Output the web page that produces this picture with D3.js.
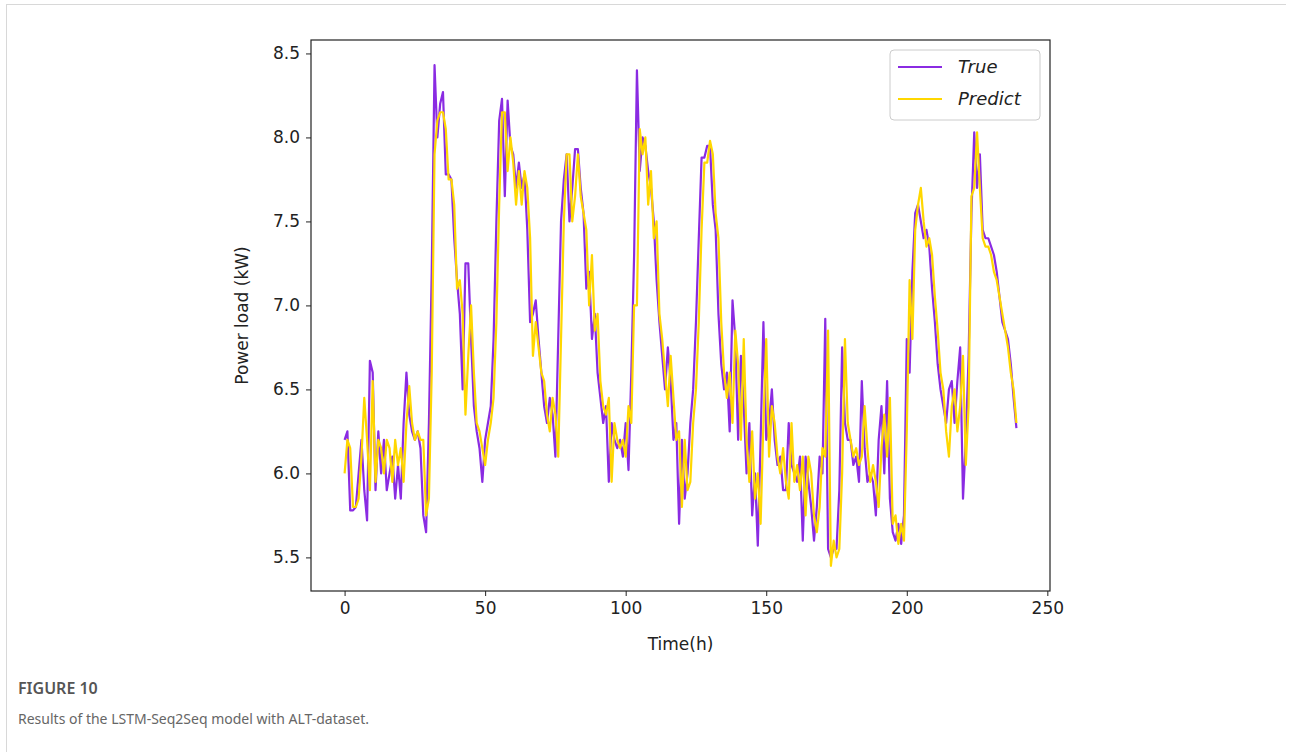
<!DOCTYPE html>
<html>
<head>
<meta charset="utf-8">
<script src="https://cdn.jsdelivr.net/npm/d3@7"></script>
<style>
body{margin:0;background:#fff;}
#kort{position:absolute;left:6px;top:4px;width:1280px;height:748px;border:1px solid #d8d8d8;border-right:none;border-bottom:none;box-sizing:border-box;}
.fig{position:absolute;left:18px;top:677px;font-family:"Noto Sans",sans-serif;font-size:16px;color:#555;font-weight:600;}
.cap{position:absolute;left:18px;top:709px;font-family:"Noto Sans",sans-serif;font-size:14px;color:#666;}
</style>
</head>
<body>
<div id="kort"></div>
<svg id="graf" width="1292" height="670" style="position:absolute;left:0;top:0"></svg>
<div class="fig">FIGURE 10</div>
<div class="cap">Results of the LSTM-Seq2Seq model with ALT-dataset.</div>
<script>
// data
const sann = [6.2,6.25,5.78,5.78,5.8,6.0,6.2,5.9,5.72,6.67,6.6,5.9,6.25,6.0,6.2,5.9,6.0,6.1,5.85,6.05,
5.85,6.3,6.6,6.35,6.25,6.2,6.25,6.15,5.75,5.65,6.3,7.2,8.43,8.0,8.2,8.27,7.78,7.78,7.75,7.4,
7.15,6.95,6.5,7.25,7.25,6.8,6.4,6.25,6.15,5.95,6.2,6.3,6.4,6.8,7.5,8.1,8.23,7.65,8.22,7.95,
7.9,7.7,7.85,7.7,7.78,7.45,6.9,6.95,7.03,6.8,6.6,6.4,6.3,6.45,6.35,6.1,6.8,7.5,7.75,7.9,
7.5,7.7,7.93,7.93,7.7,7.55,7.1,7.2,6.8,6.95,6.6,6.45,6.3,6.4,5.95,6.3,6.2,6.15,6.2,6.1,
6.3,6.02,6.6,7.3,8.4,7.8,8.0,7.95,7.8,7.7,7.5,7.15,6.9,6.7,6.5,6.75,6.55,6.2,6.3,5.7,
6.2,5.85,6.0,6.3,6.5,6.9,7.4,7.88,7.88,7.95,7.95,7.6,7.45,6.95,6.65,6.5,6.6,6.25,7.03,6.8,
6.2,6.7,6.4,6.0,6.3,5.75,6.0,5.57,6.2,6.9,6.2,6.3,6.5,6.2,6.05,6.1,5.9,5.9,6.3,6.05,
6.0,5.95,6.1,5.6,6.1,5.95,5.8,5.6,5.8,6.1,6.0,6.92,5.55,5.5,5.55,5.55,5.9,6.75,6.3,6.2,
6.2,6.05,6.1,5.95,6.55,6.15,5.95,6.0,5.95,5.75,6.2,6.4,6.0,6.55,5.85,5.65,5.6,5.7,5.58,5.75,
6.8,6.6,7.2,7.55,7.6,7.5,7.4,7.45,7.35,7.1,6.9,6.65,6.5,6.4,6.3,6.5,6.55,6.3,6.55,6.75,
5.85,6.2,6.7,7.55,8.03,7.7,7.9,7.45,7.4,7.4,7.35,7.3,7.2,7.05,6.9,6.85,6.8,6.65,6.45,6.27];

const spaadd = [6.0,6.2,6.15,5.8,5.8,5.85,6.1,6.45,6.2,5.9,6.55,5.95,6.2,6.15,6.0,6.2,6.15,5.95,6.2,
6.05,6.15,5.95,6.3,6.52,6.3,6.2,6.25,6.2,6.2,5.75,5.85,6.6,7.9,8.1,8.15,8.15,8.05,7.75,7.75,
7.6,7.1,7.15,6.95,6.35,6.7,7.0,6.6,6.3,6.25,6.15,6.05,6.2,6.3,6.45,6.9,7.6,8.15,8.15,7.8,
8.0,7.85,7.6,7.8,7.6,7.8,7.7,7.4,6.7,6.9,6.75,6.6,6.55,6.35,6.25,6.45,6.35,6.1,6.8,7.5,
7.9,7.9,7.5,7.65,7.9,7.65,7.55,7.45,7.0,7.3,6.85,6.95,6.55,6.4,6.35,6.45,5.95,6.3,6.2,6.15,
6.2,6.1,6.4,6.3,7.0,7.0,8.05,7.9,8.0,7.6,7.8,7.4,7.5,6.95,6.8,6.6,6.4,6.7,6.45,6.2,
6.25,5.8,6.2,5.9,5.95,6.3,6.5,6.9,7.45,7.85,7.85,7.98,7.9,7.55,7.4,6.9,6.6,6.45,6.6,6.3,
6.85,6.65,6.2,6.8,6.2,5.95,6.25,5.85,6.0,5.7,6.3,6.8,6.1,6.4,6.3,6.1,6.0,6.15,5.95,5.85,
6.3,5.95,6.05,5.9,6.1,5.75,6.1,6.0,5.75,5.65,5.8,6.15,6.1,6.85,5.45,5.6,5.5,5.55,6.0,6.8,
6.3,6.2,6.1,6.15,6.05,6.1,6.4,6.15,5.95,6.05,5.95,5.8,6.15,6.35,6.1,6.45,5.7,5.75,5.58,5.7,
5.6,6.25,7.15,6.8,7.45,7.6,7.7,7.5,7.35,7.4,7.3,7.05,6.85,6.6,6.5,6.25,6.1,6.4,6.5,6.25,
6.4,6.7,6.05,6.4,7.65,7.7,8.03,7.7,7.4,7.35,7.35,7.3,7.2,7.15,7.05,6.95,6.85,6.75,6.6,6.5,6.3];

const xTicks = [0,50,100,150,200,250];
const yTicks = [5.5,6.0,6.5,7.0,7.5,8.0,8.5];
const serieNavn = ["True","Predict"];
const farger = ["#8a2be2","#ffd700"];

const svg = d3.select("#graf");
const venstre = 311, hoyre = 1050, topp = 40, bunn = 591;

const n = sann.length;
const x = d3.scaleLinear().domain([-0.05*(n-1), (n-1)*1.05]).range([venstre, hoyre]);
const y = d3.scaleLinear().domain([5.30, 8.58]).range([bunn, topp]);

const linje = d3.line().x((d,i) => x(i)).y(d => y(d));

svg.append("path").datum(sann).attr("d",linje).attr("fill","none")
  .attr("stroke",farger[0]).attr("stroke-width",2.2).attr("stroke-linejoin","round");
svg.append("path").datum(spaadd).attr("d",linje).attr("fill","none")
  .attr("stroke",farger[1]).attr("stroke-width",2.2).attr("stroke-linejoin","round");

// akser
const xAkse = svg.append("g").attr("transform","translate(0,"+bunn+")")
  .call(d3.axisBottom(x).tickValues(xTicks).tickFormat(d3.format("d")).tickSize(5).tickPadding(6));
const yAkse = svg.append("g").attr("transform","translate("+venstre+",0)")
  .call(d3.axisLeft(y).tickValues(yTicks).tickFormat(d3.format(".1f")).tickSize(5).tickPadding(6));
[xAkse,yAkse].forEach(a => {
  a.select(".domain").remove();
  a.selectAll("text").attr("font-family","DejaVu Sans").attr("font-size",17).attr("fill","#222");
  a.selectAll("line").attr("stroke","#222");
});

svg.append("rect").attr("x",venstre).attr("y",topp).attr("width",hoyre-venstre).attr("height",bunn-topp)
  .attr("fill","none").attr("stroke","#222").attr("stroke-width",1.2);

svg.append("text").attr("x",(venstre+hoyre)/2).attr("y",650).attr("text-anchor","middle")
  .attr("font-family","DejaVu Sans").attr("font-size",17).attr("fill","#222").text("Time(h)");
svg.append("text").attr("transform","translate(248,"+(topp+bunn)/2+") rotate(-90)").attr("text-anchor","middle")
  .attr("font-family","DejaVu Sans").attr("font-size",17).attr("fill","#222").text("Power load (kW)");

// legend
const leg = svg.append("g");
leg.append("rect").attr("x",890).attr("y",50).attr("width",150).attr("height",70).attr("rx",4)
  .attr("fill","#fff").attr("fill-opacity",0.8).attr("stroke","#ccc");
serieNavn.forEach((s,i) => {
  leg.append("line").attr("x1",898).attr("x2",942).attr("y1",67+i*32).attr("y2",67+i*32)
    .attr("stroke",farger[i]).attr("stroke-width",2);
  leg.append("text").attr("x",958).attr("y",73+i*32).attr("font-family","DejaVu Sans").attr("font-style","italic")
    .attr("font-size",18).attr("fill","#222").text(s);
});
</script>
</body>
</html>
